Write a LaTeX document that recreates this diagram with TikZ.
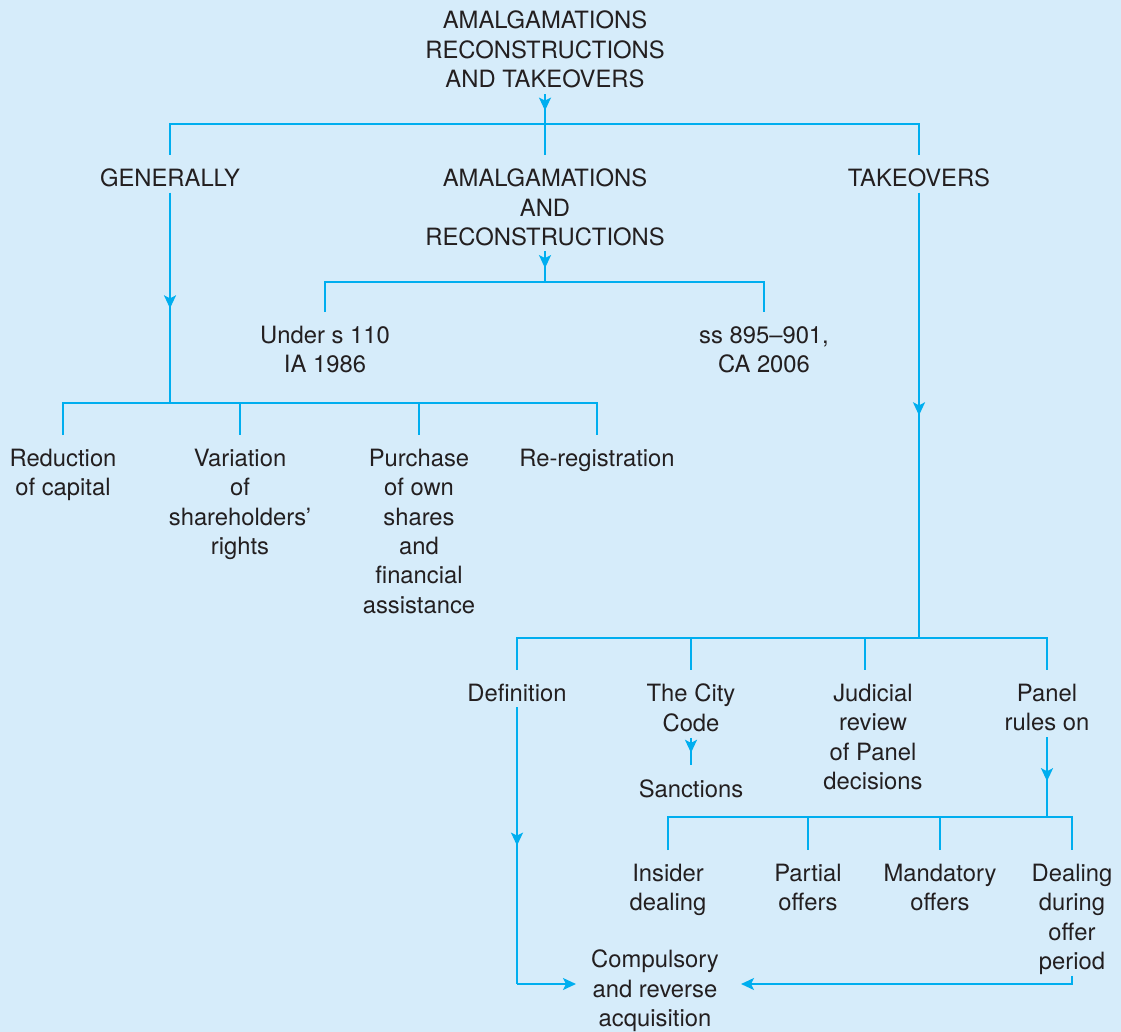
\documentclass[tikz,border=0pt]{standalone}
\usepackage{fontspec}
\setmainfont{TeX Gyre Heros}
\usetikzlibrary{arrows.meta,decorations.markings}
\definecolor{bgblue}{RGB}{214,236,250}
\definecolor{linkblue}{RGB}{0,174,239}
\definecolor{txtgray}{RGB}{35,31,32}

\begin{document}
\begin{tikzpicture}[x=1pt,y=-1pt,
    txt/.style={font=\fontsize{23.8}{29.3}\selectfont, text=txtgray, align=center, inner sep=0pt, anchor=north},
    link/.style={draw=linkblue, line width=1.8pt},
    midarrow/.style={postaction={decorate}, decoration={markings, mark=at position #1 with {\arrow{Stealth[length=13pt,width=12pt,inset=3pt]}}}},
    midarrow/.default=0.55,
    endarrow/.style={-{Stealth[length=13pt,width=12pt,inset=3pt]}}]
    \fill[bgblue] (0,0) rectangle (1121,1032);
    \useasboundingbox (0,0) rectangle (1121,1032);

    % top level
    \node (title) [txt] at (545,11) {AMALGAMATIONS\\RECONSTRUCTIONS\\AND TAKEOVERS};
    \node (generally) [txt] at (170,169) {GENERALLY};
    \node (amalrec) [txt] at (545,169) {AMALGAMATIONS\\AND\\RECONSTRUCTIONS};
    \node (takeovers) [txt] at (919,169) {TAKEOVERS};

    % amalgamations and reconstructions
    \node (unders) [txt] at (325,326) {Under s 110\\IA 1986};
    \node (ss) [txt] at (764,326) {ss 895--901,\\CA 2006};

    % generally
    \node (reduction) [txt] at (63,449) {Reduction\\of capital};
    \node (variation) [txt] at (240,449) {Variation\\of\\shareholders'\\rights};
    \node (purchase) [txt] at (419,449) {Purchase\\of own\\shares\\and\\financial\\assistance};
    \node (rereg) [txt] at (597,449) {Re-registration};

    % takeovers
    \node (definition) [txt] at (517,684) {Definition};
    \node (citycode) [txt] at (691,684) {The City\\Code};
    \node (sanctions) [txt] at (691,780) {Sanctions};
    \node (judicial) [txt] at (873,684) {Judicial\\review\\of Panel\\decisions};
    \node (panel) [txt] at (1047,684) {Panel\\rules on};

    % panel rules on
    \node (insider) [txt] at (668,864) {Insider\\dealing};
    \node (partial) [txt] at (808,864) {Partial\\offers};
    \node (mandatory) [txt] at (940,864) {Mandatory\\offers};
    \node (dealing) [txt] at (1072,864) {Dealing\\during\\offer\\period};
    \node (compulsory) [txt] at (655,950) {Compulsory\\and reverse\\acquisition};

    \coordinate (j0) at (545,124);
    \coordinate (j1) at (170,403);
    \coordinate (j2) at (545,282);
    \coordinate (j3) at (919,638);
    \coordinate (j4) at (1047,817);
    \coordinate (c1) at (517,984);
    \coordinate (c2) at (1072,984);

    \draw[link,midarrow] ([yshift=-6pt]title.south) -- (j0);
    \draw[link,shorten <=14pt,shorten >=14pt] (generally) |- (j0) -| (takeovers);
    \draw[link,shorten >=14pt] (j0) -- (amalrec);

    \draw[link,midarrow] ([yshift=-5pt]generally.south) -- (j1);
    \draw[link,shorten <=14pt,shorten >=14pt] (reduction) |- (j1) -| (rereg);
    \draw[link,shorten >=14pt] (variation |- j1) -- (variation);
    \draw[link,shorten >=14pt] (purchase |- j1) -- (purchase);

    \draw[link,midarrow] ([yshift=-5pt]amalrec.south) -- (j2);
    \draw[link,shorten <=14pt,shorten >=14pt] (unders) |- (j2) -| (ss);

    \draw[link,midarrow=0.5] ([yshift=-5pt]takeovers.south) -- (j3);
    \draw[link,shorten <=14pt,shorten >=14pt] (definition) |- (j3) -| (panel);
    \draw[link,shorten >=14pt] (citycode |- j3) -- (citycode);
    \draw[link,shorten >=14pt] ([xshift=-8pt]judicial.north |- j3) -- ([xshift=-8pt]judicial.north);

    \draw[link,midarrow] ([yshift=-6pt]citycode.south) -- ([yshift=15pt]sanctions.north);

    \draw[link,midarrow] ([yshift=-6pt]panel.south) -- (j4);
    \draw[link,shorten <=14pt,shorten >=14pt] (insider) |- (j4) -| (dealing);
    \draw[link,shorten >=14pt] (partial |- j4) -- (partial);
    \draw[link,shorten >=14pt] (mandatory |- j4) -- (mandatory);

    \draw[link,midarrow=0.5] ([yshift=-5pt]definition.south) -- (c1);
    \draw[link,endarrow,shorten >=15pt] (c1) -- (c1 -| compulsory.west);
    \draw[link,endarrow,shorten >=22pt] ([yshift=-1pt]dealing.south) -- (c2) -- (c2 -| compulsory.east);
\end{tikzpicture}
\end{document}
